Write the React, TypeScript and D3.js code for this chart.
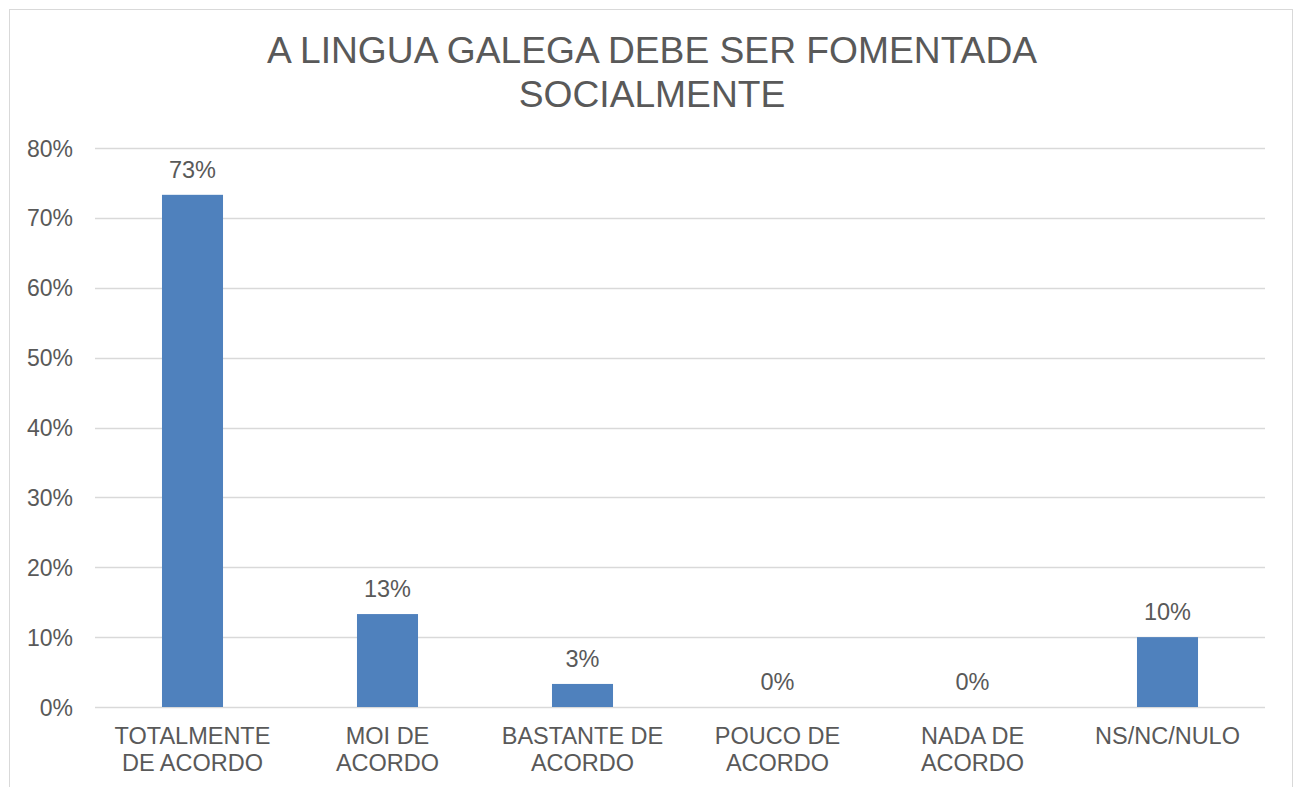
import React, { useEffect, useRef } from "react";
import * as d3 from "d3";

const titleLines = ["A LINGUA GALEGA DEBE SER FOMENTADA", "SOCIALMENTE"];
const categories = [
  "TOTALMENTE DE ACORDO",
  "MOI DE ACORDO",
  "BASTANTE DE ACORDO",
  "POUCO DE ACORDO",
  "NADA DE ACORDO",
  "NS/NC/NULO",
];
const values = [0.733, 0.133, 0.033, 0, 0, 0.1];
const yTicks = [0, 0.1, 0.2, 0.3, 0.4, 0.5, 0.6, 0.7, 0.8];

const FONT = "'Liberation Sans', Arial, sans-serif";
const TEXT = "#595959";
const GRID = "#D9D9D9";
const BAR = "#4F81BD";

// split a label into lines no wider than maxW
function wrap(label: string, size: number, maxW: number): string[] {
  const ctx = document.createElement("canvas").getContext("2d")!;
  ctx.font = `${size}px 'Liberation Sans', Arial`;
  const words = label.split(" ");
  const lines: string[] = [];
  let cur = "";
  words.forEach((w) => {
    const t = cur ? cur + " " + w : w;
    if (cur && ctx.measureText(t).width > maxW) {
      lines.push(cur);
      cur = w;
    } else cur = t;
  });
  if (cur) lines.push(cur);
  return lines;
}

export default function App() {
  const ref = useRef<SVGSVGElement>(null);

  useEffect(() => {
    const width = 1294;
    const height = 787;
    const margin = { left: 95, right: 29, top: 148, bottom: 80 };

    const svg = d3.select(ref.current);
    svg.selectAll("*").remove();

    svg
      .append("rect")
      .attr("x", 9.5)
      .attr("y", 9.5)
      .attr("width", 1283)
      .attr("height", 900)
      .attr("fill", "#fff")
      .attr("stroke", GRID);

    const x = d3
      .scaleBand<string>()
      .domain(categories)
      .range([margin.left, width - margin.right]);
    const y = d3
      .scaleLinear()
      .domain([0, 0.8])
      .range([height - margin.bottom, margin.top]);

    const barW = x.bandwidth() * 0.313;

    // title
    svg
      .append("text")
      .attr("x", 652)
      .attr("y", 63)
      .attr("text-anchor", "middle")
      .attr("font-family", FONT)
      .attr("font-size", 37.2)
      .attr("fill", TEXT)
      .selectAll("tspan")
      .data(titleLines)
      .enter()
      .append("tspan")
      .attr("x", 652)
      .attr("dy", (d, i) => (i === 0 ? 0 : 44))
      .text((d) => d);

    // gridlines
    svg
      .append("g")
      .selectAll("line")
      .data(yTicks)
      .enter()
      .append("line")
      .attr("x1", margin.left)
      .attr("x2", width - margin.right)
      .attr("y1", (d) => Math.round(y(d)) + 0.5)
      .attr("y2", (d) => Math.round(y(d)) + 0.5)
      .attr("stroke", GRID)
      .attr("stroke-width", 1.5);

    // y labels
    svg
      .append("g")
      .selectAll("text")
      .data(yTicks)
      .enter()
      .append("text")
      .attr("x", 73)
      .attr("y", (d) => y(d) + 8.5)
      .attr("text-anchor", "end")
      .attr("font-family", FONT)
      .attr("font-size", 23)
      .attr("fill", TEXT)
      .text((d) => d3.format(".0%")(d));

    // bars
    svg
      .append("g")
      .selectAll("rect")
      .data(values)
      .enter()
      .append("rect")
      .attr("x", (d, i) => x(categories[i])! + (x.bandwidth() - barW) / 2)
      .attr("y", (d) => y(d))
      .attr("width", barW)
      .attr("height", (d) => y(0) - y(d))
      .attr("fill", BAR);

    // data labels
    svg
      .append("g")
      .selectAll("text")
      .data(values)
      .enter()
      .append("text")
      .attr("x", (d, i) => x(categories[i])! + x.bandwidth() / 2)
      .attr("y", (d) => y(d) - 17)
      .attr("text-anchor", "middle")
      .attr("font-family", FONT)
      .attr("font-size", 23.5)
      .attr("fill", TEXT)
      .text((d) => d3.format(".0%")(d));

    // category labels
    const cat = svg
      .append("g")
      .selectAll("text")
      .data(categories)
      .enter()
      .append("text")
      .attr("y", 744)
      .attr("text-anchor", "middle")
      .attr("font-family", FONT)
      .attr("font-size", 23.5)
      .attr("fill", TEXT);
    cat.each(function (d) {
      const cx = x(d)! + x.bandwidth() / 2;
      d3.select(this)
        .selectAll("tspan")
        .data(wrap(d, 23.5, 175))
        .enter()
        .append("tspan")
        .attr("x", cx)
        .attr("dy", (t, i) => (i === 0 ? 0 : 27))
        .text((t) => t);
    });
  }, []);

  return (
    <svg
      ref={ref}
      width={1294}
      height={787}
      style={{ position: "absolute", left: 0, top: 0, background: "#fff" }}
    />
  );
}
